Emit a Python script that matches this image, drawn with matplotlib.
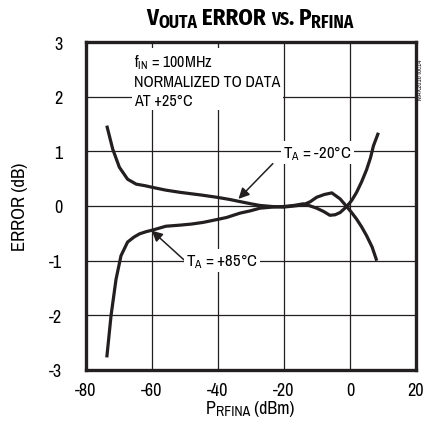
import matplotlib
matplotlib.use("Agg")
import matplotlib.pyplot as plt

FONT = "Archivo Narrow"
TITLE_FONT = "Fira Sans Condensed"
plt.rcParams["font.family"] = [FONT, "DejaVu Sans"]
plt.rcParams["mathtext.fontset"] = "custom"
plt.rcParams["mathtext.rm"] = FONT
plt.rcParams["mathtext.it"] = FONT
plt.rcParams["mathtext.bf"] = FONT

# ---- data ----
x_ticks = [-80, -60, -40, -20, 0, 20]
y_ticks = [-3, -2, -1, 0, 1, 2, 3]

p_m20 = [-73.7, -71.9, -69.9, -67.4, -64.8, -62.0, -59.8, -55.8, -51.5, -45.0,
         -40.4, -36.5, -33.3, -30.0, -27.3, -23.5, -20.2, -17.0, -14.2, -12.0,
         -10.1, -7.8, -5.5, -3.0, -1.0, 0.5, 2.0, 3.5, 5.0, 6.7, 8.1]
e_m20 = [1.47, 1.04, 0.71, 0.49, 0.40, 0.37, 0.34, 0.29, 0.25, 0.20,
         0.16, 0.12, 0.08, 0.04, 0.01, -0.01, -0.02, 0.00, 0.02, 0.08,
         0.16, 0.21, 0.24, 0.13, -0.01, -0.12, -0.24, -0.38, -0.54, -0.75, -1.00]

p_p85 = [-73.7, -72.4, -70.9, -69.4, -67.4, -65.5, -63.8, -61.8, -59.8, -55.8,
         -51.5, -48.0, -44.5, -40.5, -37.4, -33.3, -30.3, -27.3, -23.5, -20.2,
         -17.0, -14.2, -12.0, -10.1, -8.0, -6.1, -4.5, -3.0, -1.0, 0.5,
         2.0, 3.5, 5.0, 6.2, 7.1, 8.6]
e_p85 = [-2.77, -2.00, -1.34, -0.91, -0.66, -0.57, -0.51, -0.47, -0.44, -0.37,
         -0.35, -0.33, -0.30, -0.25, -0.21, -0.13, -0.09, -0.04, -0.02, -0.01,
         0.01, 0.04, 0.00, -0.04, -0.10, -0.17, -0.16, -0.12, -0.01, 0.10,
         0.25, 0.44, 0.66, 0.88, 1.10, 1.34]

fig = plt.figure(figsize=(4.24, 4.35), dpi=100)
ax = fig.add_axes([86 / 424, 1 - 371 / 435, 330 / 424, 328 / 435])

ax.plot(p_m20, e_m20, color="#231f20", lw=2.3, solid_capstyle="butt", zorder=3)
ax.plot(p_p85, e_p85, color="#231f20", lw=2.3, solid_capstyle="butt", zorder=3)

ax.set_xlim(-80, 20)
ax.set_ylim(-3, 3)
ax.set_xticks(x_ticks)
ax.set_yticks(y_ticks)
ax.set_xticklabels([str(v) for v in x_ticks])
ax.set_yticklabels([str(v) for v in y_ticks])
ax.tick_params(length=0, labelsize=13, pad=9)
ax.tick_params(axis="y", pad=17)
ax.grid(True, color="#231f20", lw=0.9)
ax.set_axisbelow(True)
for s in ax.spines.values():
    s.set_linewidth(2.4)
    s.set_color("#231f20")

ax.set_ylabel("ERROR (dB)", fontsize=13.5, labelpad=15)

# annotation text block
ax.text(-65.4, 2.82, "f$_{\\rm IN}$ = 100MHz\nNORMALIZED TO DATA\nAT +25°C",
        fontsize=11.5, va="top", ha="left", linespacing=1.3,
        bbox=dict(facecolor="white", edgecolor="none", pad=1.5), zorder=4)

ax.annotate("T$_{\\rm A}$ = -20°C", xy=(-33.8, 0.13), xytext=(-9.9, 0.98),
            fontsize=12, ha="center", va="center",
            bbox=dict(facecolor="white", edgecolor="none", pad=1.5),
            arrowprops=dict(arrowstyle="-|>", color="#231f20", lw=1.1,
                            mutation_scale=16, shrinkA=0, shrinkB=0,
                            relpos=(-0.15, -0.1)), zorder=4)
ax.annotate("T$_{\\rm A}$ = +85°C", xy=(-60.1, -0.45), xytext=(-38.8, -1.0),
            fontsize=12, ha="center", va="center",
            bbox=dict(facecolor="white", edgecolor="none", pad=1.5),
            arrowprops=dict(arrowstyle="-|>", color="#231f20", lw=1.1,
                            mutation_scale=16, shrinkA=0, shrinkB=0,
                            relpos=(-0.03, 0.55)), zorder=4)

fig.text(420 / 424, 1 - 80 / 435, "MAX2016 toc14", rotation=90, fontsize=5,
         ha="center", va="center", color="#231f20")

# rich text helper for small caps / subscripts
def rich(pieces, xc, y_px, family):
    fig.canvas.draw()
    r = fig.canvas.get_renderer()
    objs = []
    for s, size, dy, w in pieces:
        t = fig.text(0, 0, s, fontsize=size, weight=w, va="baseline", ha="left",
                     family=family)
        objs.append((t, dy))
    widths = [t.get_window_extent(r).width for t, _ in objs]
    total = sum(widths)
    x = xc - total / 2
    for (t, dy), wd in zip(objs, widths):
        t.set_position((x / 424, 1 - (y_px + dy) / 435))
        x += wd

rich([("V", 16.5, 0, "bold"), ("OUTA", 12.5, 2.5, "bold"), (" ERROR ", 16.5, 0, "bold"),
      ("VS", 12.5, 0, "bold"), (". ", 16.5, 0, "bold"), ("P", 16.5, 0, "bold"),
      ("RFINA", 12.5, 2.5, "bold")], 250, 25, [TITLE_FONT, FONT, "DejaVu Sans"])
rich([("P", 13, 0, "normal"), ("RFINA", 10, 2, "normal"), (" (dBm)", 13, 0, "normal")],
     250, 414, [FONT, "DejaVu Sans"])

fig.savefig("out.png", dpi=100)
